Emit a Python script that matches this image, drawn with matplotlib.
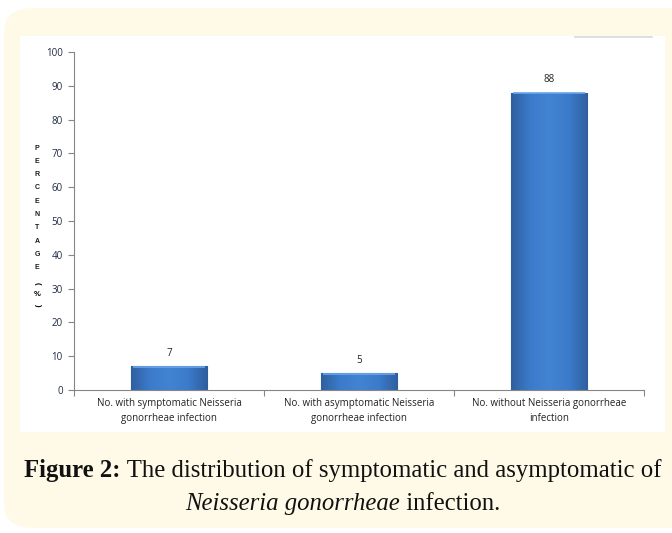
import numpy as np
import matplotlib
matplotlib.use("Agg")
import matplotlib.pyplot as plt
from matplotlib.patches import FancyBboxPatch, Rectangle
from matplotlib.colors import LinearSegmentedColormap

# data
categories = ['No. with symptomatic Neisseria\ngonorrheae infection',
              'No. with asymptomatic Neisseria\ngonorrheae infection',
              'No. without Neisseria gonorrheae\ninfection']
percent = [7, 5, 88]
yticks = [0, 10, 20, 30, 40, 50, 60, 70, 80, 90, 100]

W, H = 672, 533
fig = plt.figure(figsize=(W / 100, H / 100), dpi=100)
fig.patch.set_facecolor('white')

# pixel coords -> figure fraction
def fx(px): return px / W
def fy(py): return 1 - py / H

panel = FancyBboxPatch((fx(4), fy(528)), fx(700) - fx(4), fy(8) - fy(528),
                       boxstyle="round,pad=0,rounding_size=0.045",
                       transform=fig.transFigure, facecolor='#fefae7',
                       edgecolor='none', zorder=0)
fig.patches.append(panel)
chart_bg = Rectangle((fx(20), fy(432)), fx(665) - fx(20), fy(36) - fy(432),
                     transform=fig.transFigure, facecolor='white',
                     edgecolor='none', zorder=0.5)
fig.patches.append(chart_bg)
# faint remnant line at top right
fig.add_artist(plt.Line2D([fx(575), fx(652)], [fy(37), fy(37)],
                          transform=fig.transFigure, color='#d9d9d9', lw=1.2))

ax = fig.add_axes([fx(74), fy(390), fx(644) - fx(74), fy(52) - fy(390)])
ax.set_facecolor('none')
ax.set_zorder(3)

sans = 'Open Sans'
x = np.arange(len(categories))
bars = ax.bar(x, percent, width=0.4, color='#3b76c6', edgecolor='#2d5d9c',
              linewidth=0.8, zorder=2)

# horizontal gradient to mimic the bevelled excel bars
cmap = LinearSegmentedColormap.from_list('bev', ['#2f5f9f', '#3c7bcb', '#4283d2',
                                                 '#3c7bcb', '#2f5f9f'])
grad = np.linspace(0, 1, 256).reshape(1, -1)
for b in bars:
    x0, w, h = b.get_x(), b.get_width(), b.get_height()
    im = ax.imshow(grad, cmap=cmap, aspect='auto', extent=[x0, x0 + w, 0, h],
                   zorder=2.5)
    im.set_clip_path(b)
    ax.plot([x0 + 0.01, x0 + w - 0.01], [h - 0.25, h - 0.25],
            color='#6aa6ea', lw=1.2, zorder=3, solid_capstyle='butt')

for xi, v in zip(x, percent):
    ax.text(xi, v + 2.2, str(v), ha='center', va='bottom', fontsize=7,
            family=sans, color='#222222')

ax.set_xlim(-0.5, 2.5)
ax.set_ylim(0, 100)
ax.set_yticks(yticks)
ax.set_yticklabels([str(t) for t in yticks], fontsize=7,
                   family=sans, color='#1f2a44')
ax.set_xticks([-0.5, 0.5, 1.5, 2.5])
ax.set_xticklabels([])
ax.set_xticks(x, minor=True)
ax.set_xticklabels(categories, minor=True, fontsize=7, linespacing=1.45,
                   family=sans, color='#222222')
ax.tick_params(axis='x', which='minor', length=0, pad=6)
ax.tick_params(axis='x', which='major', length=4, color='#868686')
ax.tick_params(axis='y', length=4, color='#868686', pad=4)
for s in ['top', 'right']:
    ax.spines[s].set_visible(False)
for s in ['left', 'bottom']:
    ax.spines[s].set_color('#868686')
    ax.spines[s].set_linewidth(0.8)

# stacked y label
label_letters = 'PERCENTAGE'
for i, ch in enumerate(label_letters):
    fig.text(fx(37), fy(148 + i * 13.3), ch, ha='center', va='center',
             fontsize=5, fontweight='bold', family='Liberation Sans',
             color='#1a1a1a')
fig.text(fx(37), fy(283), '(', ha='center', va='center', rotation=-90,
         fontsize=5.5, fontweight='bold', family='Liberation Sans')
fig.text(fx(37), fy(294), '%', ha='center', va='center',
         fontsize=5.5, fontweight='bold', family='Liberation Sans')
fig.text(fx(37), fy(305), ')', ha='center', va='center', rotation=-90,
         fontsize=5.5, fontweight='bold', family='Liberation Sans')

# caption, built from pieces so bold / italic parts sit inline
cap_font = dict(fontsize=17.8, family='Liberation Serif', color='#111111',
                va='baseline')
renderer = fig.canvas.get_renderer()

def caption_line(parts, y_px):
    texts = []
    for s, style in parts:
        kw = dict(cap_font)
        if style == 'b':
            kw['fontweight'] = 'bold'
        if style == 'i':
            kw['fontstyle'] = 'italic'
        texts.append(fig.text(0, fy(y_px), s, **kw))
    widths = [t.get_window_extent(renderer).width for t in texts]
    x_px = (343 - sum(widths) / 2)
    for t, w in zip(texts, widths):
        t.set_x(x_px / W)
        x_px += w

caption_line([('Figure 2:', 'b'),
              (' The distribution of symptomatic and asymptomatic of', 'n')], 477)
caption_line([('Neisseria gonorrheae', 'i'), (' infection.', 'n')], 510)

fig.savefig('out.png', dpi=100)
